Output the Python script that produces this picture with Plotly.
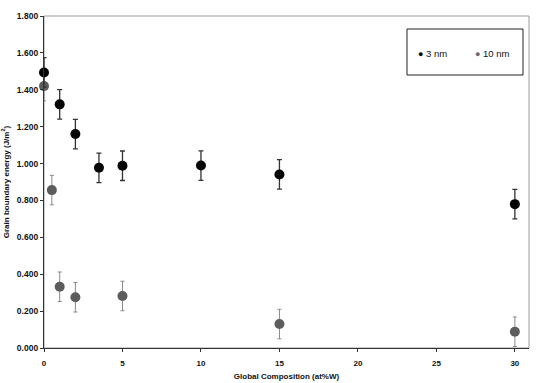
import plotly.graph_objects as go

# 3 nm series
x_3nm = [0, 1, 2, 3.5, 5, 10, 15, 30]
y_3nm = [1.494, 1.321, 1.160, 0.977, 0.988, 0.989, 0.941, 0.780]
err_3nm = [0.08, 0.08, 0.08, 0.08, 0.08, 0.08, 0.08, 0.08]

# 10 nm series
x_10nm = [0, 0.5, 1, 2, 5, 15, 30]
y_10nm = [1.420, 0.856, 0.332, 0.275, 0.282, 0.130, 0.088]
err_10nm = [0.08, 0.08, 0.08, 0.08, 0.08, 0.08, 0.08]

x_ticks = [0, 5, 10, 15, 20, 25, 30]
y_ticks = [0.0, 0.2, 0.4, 0.6, 0.8, 1.0, 1.2, 1.4, 1.6, 1.8]

series_names = ["3 nm", "10 nm"]
series_colors = ["#050505", "#5c5c5c"]

FONT = "Liberation Sans, Arial, sans-serif"

fig = go.Figure()

fig.add_trace(go.Scatter(
    x=x_10nm, y=y_10nm, mode="markers", name=series_names[1], showlegend=False,
    marker=dict(color=series_colors[1], size=10),
    error_y=dict(type="data", array=err_10nm, color="#8a8a8a", thickness=1, width=2),
    cliponaxis=False,
))
fig.add_trace(go.Scatter(
    x=x_3nm, y=y_3nm, mode="markers", name=series_names[0], showlegend=False,
    marker=dict(color=series_colors[0], size=10),
    error_y=dict(type="data", array=err_3nm, color="#333333", thickness=1.3, width=2.5),
    cliponaxis=False,
))

# legend box (drawn as a framed box with symbol + label texts)
L, R, T, B = 44, 8, 16, 35
PW, PH = 537 - L - R, 383 - T - B

def px(xp):
    return (xp - L) / PW

def py(yp):
    return (383 - B - yp) / PH

legend_items = [(420, series_names[0], series_colors[0]), (477, series_names[1], "#6a6a6a")]
annotations = []
for xp, name, col in legend_items:
    annotations.append(dict(
        xref="paper", yref="paper", x=px(xp - 4), y=py(53), xanchor="left", yanchor="middle",
        text=f"<span style='color:{col};font-size:9px'>●</span> {name}", showarrow=False,
        font=dict(family=FONT, size=9.5, color="#111"),
    ))

fig.update_layout(
    width=537, height=383,
    margin=dict(l=L, r=R, t=T, b=B),
    plot_bgcolor="white", paper_bgcolor="white",
    font=dict(family=FONT, size=8, color="#111"),
    showlegend=False,
    annotations=annotations,
    shapes=[
        dict(type="rect", xref="paper", yref="paper", x0=0, x1=1, y0=0, y1=1,
             line=dict(color="#9a9a9a", width=1), layer="below"),
        dict(type="rect", xref="paper", yref="paper",
             x0=px(407), x1=px(523), y0=py(75), y1=py(29),
             line=dict(color="#222", width=1)),
    ],
)

fig.update_xaxes(
    range=[0, 30.9], tickvals=x_ticks, ticks="outside", ticklen=3, tickcolor="#333",
    showline=True, linecolor="#333", linewidth=1.3, showgrid=False, zeroline=False,
    automargin=False,
    tickfont=dict(family=FONT, size=8, weight="bold"), ticklabelstandoff=4,
    title=dict(text="Global Composition (at%W)", font=dict(family=FONT, size=8, weight="bold"), standoff=6),
)
fig.update_yaxes(
    range=[0, 1.8], tickvals=y_ticks, tickformat=".3f", ticks="outside", ticklen=3, tickcolor="#333",
    showline=True, linecolor="#333", linewidth=1.3, showgrid=False, zeroline=False,
    automargin=False,
    tickfont=dict(family=FONT, size=8.5, weight="bold"),
    title=dict(text="Grain boundary energy (J/m<sup>2</sup>)", font=dict(family=FONT, size=8, weight="bold"), standoff=6),
)

fig.write_html("out.html")
